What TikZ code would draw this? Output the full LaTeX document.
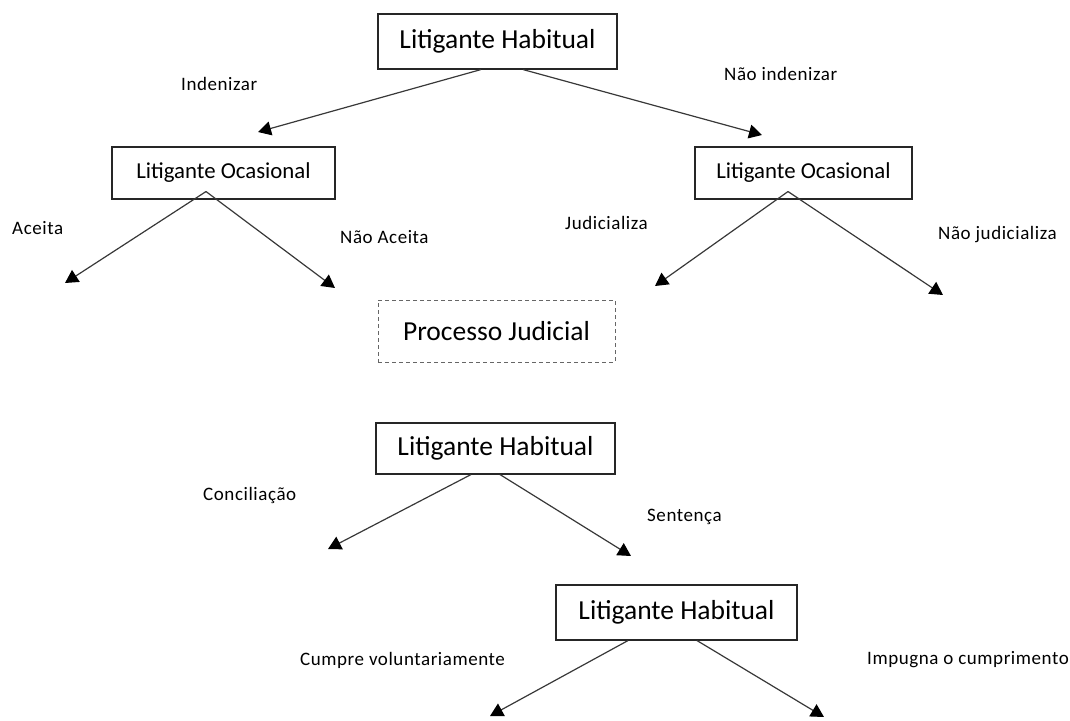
\documentclass[tikz,border=0pt]{standalone}
\usepackage{fontspec}
\setmainfont{Carlito}
\newfontfamily\lblfont[LetterSpace=3]{Carlito}
\usetikzlibrary{arrows.meta,calc}
\begin{document}
\begin{tikzpicture}[x=1pt,y=-1pt,
  box/.style={draw=black!85,line width=1.1pt,inner sep=0pt,text=black,font=\fontsize{27.5}{30}\selectfont},
  sbox/.style={draw=black!85,line width=1.1pt,inner sep=0pt,text=black,font=\fontsize{22.8}{26}\selectfont},
  dbox/.style={draw=black!60,line width=1pt,dash pattern=on 4pt off 3pt,inner sep=0pt,text=black,font=\fontsize{27.5}{30}\selectfont},
  lbl/.style={anchor=west,inner sep=0pt,text=black,font=\lblfont\fontsize{19}{22}\selectfont},
  arr/.style={draw=black!78,line width=1.2pt,-{Triangle[length=13pt,width=14pt,color=black,fill=black]}}]
\useasboundingbox (0,0) rectangle (1070,720);
% boxes
\node[box,minimum width=239pt,minimum height=55pt] (lh1) at (497.5,41.5) {Litigante Habitual};
\node[sbox,minimum width=223pt,minimum height=52pt] (loL) at (223.5,173) {Litigante Ocasional};
\node[sbox,minimum width=217pt,minimum height=52pt] (loR) at (803.5,173) {Litigante Ocasional};
\node[dbox,minimum width=237pt,minimum height=62pt] (pj) at (496.5,331) {Processo Judicial};
\node[box,minimum width=239pt,minimum height=51pt] (lh2) at (495.5,448.5) {Litigante Habitual};
\node[box,minimum width=241pt,minimum height=55pt] (lh3) at (676.5,612.5) {Litigante Habitual};
% arrow ends
\coordinate (e1) at (258,132);
\coordinate (e2) at (762,135);
\coordinate (e3) at (65,283);
\coordinate (e4) at (335,288);
\coordinate (e5) at (655,286);
\coordinate (e6) at (943,295);
\coordinate (e7) at (328,549);
\coordinate (e8) at (631,556);
\coordinate (e9) at (490,716);
\coordinate (e10) at (824,717);
% arrows
\draw[arr] ([xshift=-16.5pt]lh1.south) -- (e1);
\draw[arr] ([xshift=25.5pt]lh1.south) -- (e2);
\draw[arr] ([xshift=-17.5pt,yshift=8pt]loL.south) -- (e3);
\draw[arr] ([xshift=-17.5pt,yshift=8pt]loL.south) -- (e4);
\draw[arr] ([xshift=-15.5pt,yshift=8pt]loR.south) -- (e5);
\draw[arr] ([xshift=-15.5pt,yshift=8pt]loR.south) -- (e6);
\draw[arr] ([xshift=-24.5pt]lh2.south) -- (e7);
\draw[arr] ([xshift=4.5pt]lh2.south) -- (e8);
\draw[arr] ([xshift=-48.5pt]lh3.south) -- (e9);
\draw[arr] ([xshift=20.5pt]lh3.south) -- (e10);
% labels
\node[lbl] (l1) at (181,84) {Indenizar};
\node[lbl] (l2) at (724,74) {Não indenizar};
\node[lbl] (l3) at (12,228) {Aceita};
\node[lbl] (l4) at (340,237) {Não Aceita};
\node[lbl] (l5) at (565,223) {Judicializa};
\node[lbl] (l6) at (938,235) {Não judicializa};
\node[lbl] (l7) at (203,495) {Conciliação};
\node[lbl] (l8) at (647,517) {Sentença};
\node[lbl] (l9) at (300,660) {Cumpre voluntariamente};
\node[lbl] (l10) at (867,660) {Impugna o cumprimento};
\end{tikzpicture}
\end{document}
